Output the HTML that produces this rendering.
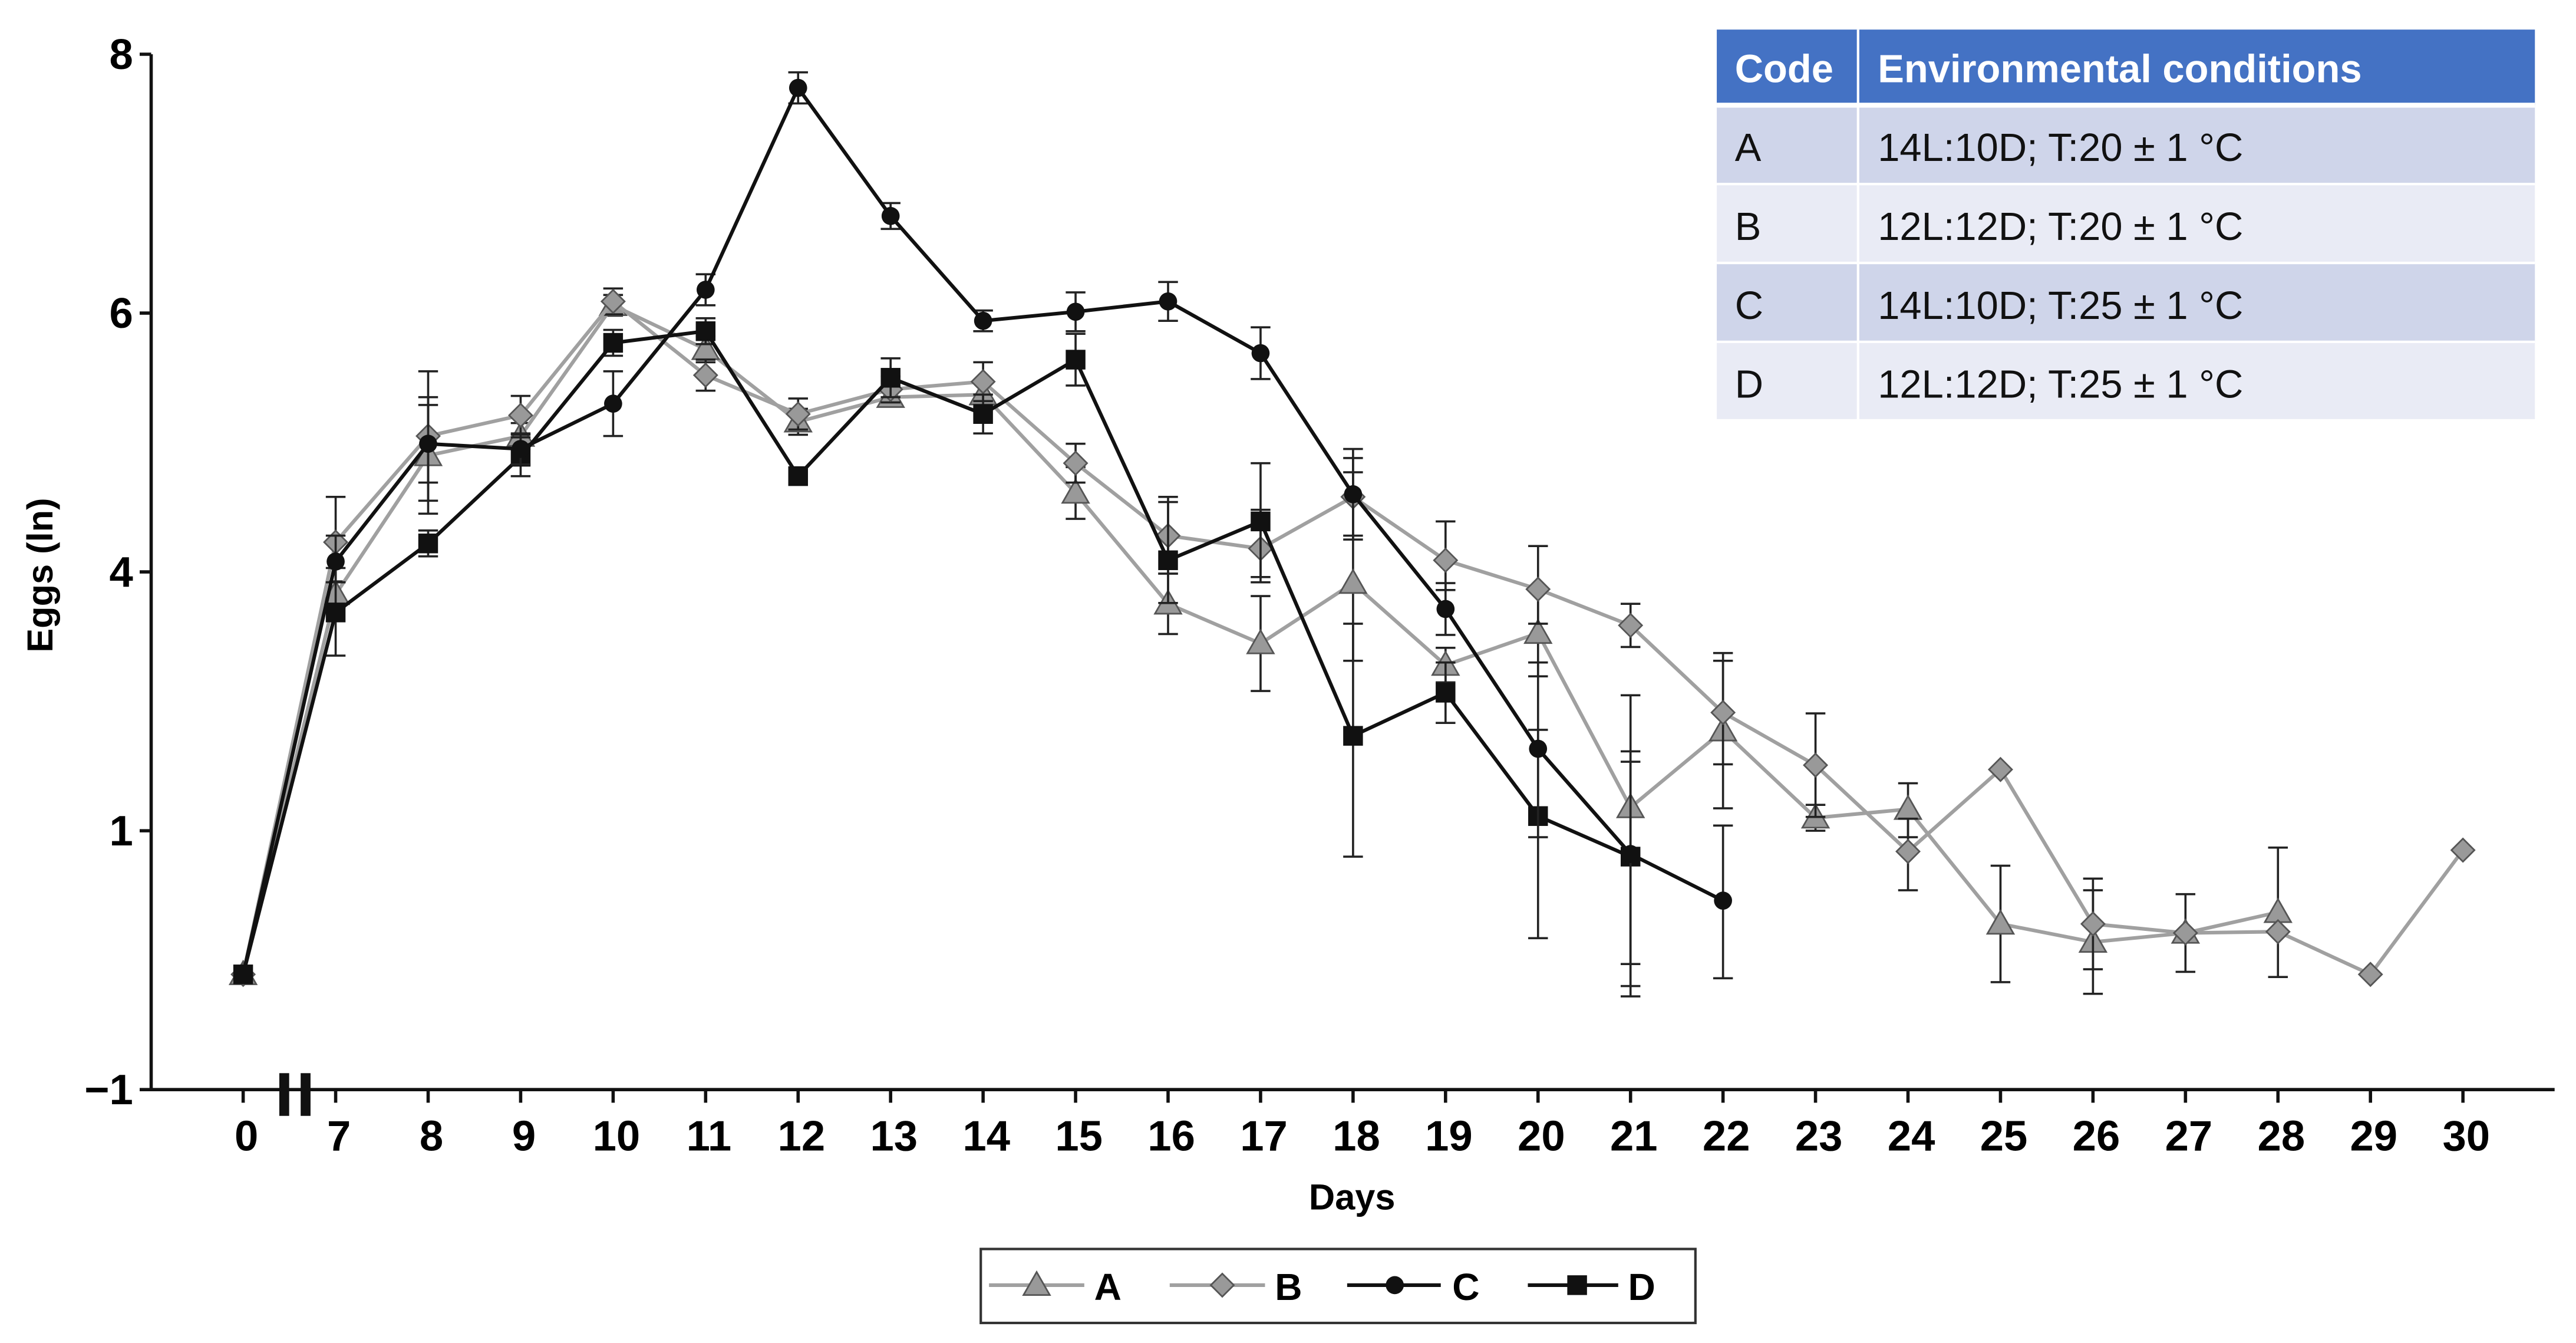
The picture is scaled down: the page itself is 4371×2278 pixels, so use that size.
<!DOCTYPE html>
<html><head><meta charset="utf-8"><style>
html,body{margin:0;padding:0;background:#fff}
svg{display:block}
text{font-family:"Liberation Sans",sans-serif}
</style></head><body>
<svg id="chart" width="4371" height="2278" viewBox="0 0 1568 817.2" xmlns="http://www.w3.org/2000/svg">
<g id="axes"></g>
<g id="series"></g>
<text transform="translate(32,350) rotate(-90)" text-anchor="middle" font-size="22" font-weight="bold">Eggs (ln)</text>
<text x="823" y="736" text-anchor="middle" font-size="22" font-weight="bold">Days</text>
<g>
<rect x="597" y="760" width="435" height="45" fill="#fff" stroke="#333" stroke-width="1.5"/>
<g><line x1="602" y1="782" x2="660" y2="782" stroke="#a0a0a0" stroke-width="2.2"/><polygon points="631,774 639,788 623,788" fill="#999" stroke="#555" stroke-width="1"/><text x="666" y="791" font-size="23" font-weight="bold">A</text></g>
<g><line x1="712" y1="782" x2="770" y2="782" stroke="#a0a0a0" stroke-width="2.2"/><polygon points="744,775 751,782 744,789 737,782" fill="#999" stroke="#555" stroke-width="1"/><text x="776" y="791" font-size="23" font-weight="bold">B</text></g>
<g><line x1="820" y1="782" x2="877" y2="782" stroke="#111" stroke-width="2.2"/><circle cx="849" cy="782" r="5.5" fill="#111"/><text x="884" y="791" font-size="23" font-weight="bold">C</text></g>
<g><line x1="930" y1="782" x2="985" y2="782" stroke="#111" stroke-width="2.2"/><rect x="954" y="776" width="12" height="12" fill="#111"/><text x="991" y="791" font-size="23" font-weight="bold">D</text></g>
</g>
<g font-size="24">
<rect x="1045" y="18" width="498" height="46" fill="#4472C4"/>
<rect x="1045" y="64" width="498" height="48" fill="#CFD5EA"/>
<rect x="1045" y="112" width="498" height="48" fill="#E9EBF5"/>
<rect x="1045" y="160" width="498" height="48" fill="#CFD5EA"/>
<rect x="1045" y="208" width="498" height="47" fill="#E9EBF5"/>
<line x1="1045" y1="64" x2="1543" y2="64" stroke="#fff" stroke-width="3"/>
<line x1="1045" y1="112" x2="1543" y2="112" stroke="#fff" stroke-width="1.5"/>
<line x1="1045" y1="160" x2="1543" y2="160" stroke="#fff" stroke-width="1.5"/>
<line x1="1045" y1="208" x2="1543" y2="208" stroke="#fff" stroke-width="1.5"/>
<line x1="1131" y1="18" x2="1131" y2="255" stroke="#fff" stroke-width="1.5"/>
<text x="1056" y="50" fill="#fff" font-weight="bold">Code</text>
<text x="1143" y="50" fill="#fff" font-weight="bold">Environmental conditions</text>
<text x="1056" y="98" fill="#111">A</text><text x="1143" y="98" fill="#111">14L:10D; T:20 ± 1 °C</text>
<text x="1056" y="146" fill="#111">B</text><text x="1143" y="146" fill="#111">12L:12D; T:20 ± 1 °C</text>
<text x="1056" y="194" fill="#111">C</text><text x="1143" y="194" fill="#111">14L:10D; T:25 ± 1 °C</text>
<text x="1056" y="242" fill="#111">D</text><text x="1143" y="242" fill="#111">12L:12D; T:25 ± 1 °C</text>
</g>
</svg>
<script>
const dayTicks = [0,7,8,9,10,11,12,13,14,15,16,17,18,19,20,21,22,23,24,25,26,27,28,29,30];
const yTicks = [-1,1,4,6,8];
const daysA = [0,7,8,9,10,11,12,13,14,15,16,17,18,19,20,21,22,23,24,25,26,27,28];
const valuesA = [-0.11,3.74,4.90,5.05,6.06,5.72,5.16,5.35,5.37,4.61,3.63,3.17,3.87,2.92,3.29,1.27,2.16,1.15,1.25,0.28,0.14,0.21,0.37];
const errorsA = [0,0.15,0.45,0.1,0.08,0.1,0.1,0.06,0.1,0.2,0.35,0.55,0.9,0.2,0.5,1.3,0.9,0.15,0.3,0.45,0.4,0.3,0.5];
const daysB = [0,7,8,9,10,11,12,13,14,15,16,17,18,19,20,21,22,23,24,25,26,27,28,29,30];
const valuesB = [-0.11,4.23,5.05,5.21,6.09,5.52,5.22,5.41,5.47,4.84,4.28,4.18,4.58,4.09,3.80,3.38,2.37,1.76,0.84,1.71,0.28,0.21,0.22,-0.11,0.85];
const errorsB = [0,0.35,0.5,0.15,0.1,0.12,0.12,0.1,0.15,0.15,0.3,0.3,0.3,0.3,0.4,0.25,0.6,0.6,0.3,0,0.35,0,0,0,0];
const daysC = [0,7,8,9,10,11,12,13,14,15,16,17,18,19,20,21,22];
const valuesC = [-0.11,4.08,4.99,4.95,5.30,6.18,7.74,6.75,5.94,6.01,6.09,5.69,4.60,3.57,1.95,0.82,0.46];
const errorsC = [0,0.2,0.3,0.12,0.25,0.12,0.12,0.1,0.08,0.15,0.15,0.2,0.35,0.3,1.0,1.1,0.6];
const daysD = [0,7,8,9,10,11,12,13,14,15,16,17,18,19,20,21];
const valuesD = [-0.11,3.53,4.22,4.89,5.77,5.86,4.74,5.50,5.22,5.64,4.09,4.39,2.10,2.60,1.17,0.80];
const errorsD = [0,0.5,0.1,0.15,0.1,0.1,0,0.15,0.15,0.2,0.45,0.45,1.3,0.35,1.0,1.0];

const NS = "http://www.w3.org/2000/svg";
const X0 = 148, DX = 56.3, YB = 663, DY = 157.5, AX = 92, AXR = 1555;
function xScale(day){ return X0 + dayTicks.indexOf(day) * DX; }
function yScale(v){
  for (let i = 0; i < yTicks.length - 1; i++) {
    if (v <= yTicks[i+1] || i === yTicks.length - 2) {
      const t = (v - yTicks[i]) / (yTicks[i+1] - yTicks[i]);
      return YB - (i + t) * DY;
    }
  }
}
function mk(tag, attrs, parent){ const e = document.createElementNS(NS, tag); for (const k in attrs) e.setAttribute(k, attrs[k]); parent.appendChild(e); return e; }

const axes = document.getElementById('axes');
let el = mk('line', {x1:AX, y1:YB, x2:AX, y2:yScale(8), stroke:'#111', 'stroke-width':2}, axes);


el = mk('line', {x1:AX, y1:YB, x2:AXR, y2:YB, stroke:'#111', 'stroke-width':2}, axes);


yTicks.forEach(v => {
  const y = yScale(v);
  mk('line', {x1:AX-7, y1:y, x2:AX, y2:y, stroke:'#111', 'stroke-width':2}, axes);
  const t = mk('text', {x:AX-11, y:y+9, 'text-anchor':'end', 'font-size':26, 'font-weight':'bold'}, axes);
  t.textContent = v === -1 ? '\u22121' : String(v);
  
  
});
dayTicks.forEach(d => {
  const x = xScale(d);
  mk('line', {x1:x, y1:YB, x2:x, y2:YB+8, stroke:'#111', 'stroke-width':2}, axes);
  const t = mk('text', {x:x+2, y:700, 'text-anchor':'middle', 'font-size':26, 'font-weight':'bold'}, axes);
  t.textContent = String(d);
  
  
});
el = mk('g', {}, axes);


mk('rect', {x:170, y:653, width:6, height:26, fill:'#111'}, el);
mk('rect', {x:183, y:653, width:6, height:26, fill:'#111'}, el);

const seriesG = document.getElementById('series');
const defs = [
  {name:'a', days:daysA, vals:valuesA, errs:errorsA, line:'#a0a0a0', marker:'tri'},
  {name:'b', days:daysB, vals:valuesB, errs:errorsB, line:'#a0a0a0', marker:'dia'},
  {name:'d', days:daysD, vals:valuesD, errs:errorsD, line:'#111', marker:'sq'},
  {name:'c', days:daysC, vals:valuesC, errs:errorsC, line:'#111', marker:'circ'}
];
defs.forEach(s => {
  const g = mk('g', {}, seriesG);
  
  
  s.days.forEach((d, i) => {
    if (!s.errs[i]) return;
    const x = xScale(d), y1 = yScale(s.vals[i] + s.errs[i]), y2 = yScale(s.vals[i] - s.errs[i]);
    const eb = mk('path', {d:`M${x},${y1}V${y2}M${x-6},${y1}H${x+6}M${x-6},${y2}H${x+6}`, stroke:'#222', 'stroke-width':1.3, fill:'none'}, g);
    
    
  });
  const pts = s.days.map((d, i) => xScale(d) + ',' + yScale(s.vals[i])).join(' ');
  const pl = mk('polyline', {points:pts, fill:'none', stroke:s.line, 'stroke-width':2.2}, g);
  
  
  s.days.forEach((d, i) => {
    const x = xScale(d), y = yScale(s.vals[i]);
    let m;
    if (s.marker === 'tri') m = mk('polygon', {points:`${x},${y-8} ${x+8},${y+6} ${x-8},${y+6}`, fill:'#999', stroke:'#555', 'stroke-width':1}, g);
    else if (s.marker === 'dia') m = mk('polygon', {points:`${x},${y-7} ${x+7},${y} ${x},${y+7} ${x-7},${y}`, fill:'#999', stroke:'#555', 'stroke-width':1}, g);
    else if (s.marker === 'sq') m = mk('rect', {x:x-6, y:y-6, width:12, height:12, fill:'#111'}, g);
    else m = mk('circle', {cx:x, cy:y, r:5.5, fill:'#111'}, g);
    
    
  });
});
</script>
</body></html>
